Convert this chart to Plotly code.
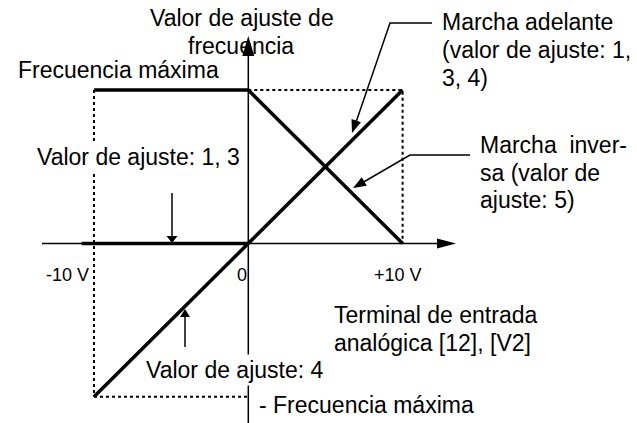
import math
import plotly.graph_objects as go

# ---------------- data ----------------
tick_values = [-10, 0, 10]
tick_labels = ["-10 V", "0", "+10 V"]

v_max = 10          # analog input full scale (V)
f_max = 1.0         # maximum frequency (normalised)

fwd_volts = [-10, 10]        # Marcha adelante (1, 3, 4) / ajuste 4
fwd_freq = [-1.0, 1.0]
rev_volts = [-10, 0, 10]     # Marcha inversa (ajuste 5)
rev_freq = [1.0, 1.0, 0.0]
hold_volts = [-10.8, 0]      # Valor de ajuste 1, 3 (negative input -> 0)
hold_freq = [0.0, 0.0]

# ---------------- layout helpers ----------------
W, H = 637, 423
X0_PX, SX = 248.3, 15.43     # pixel of 0 V, pixels per volt
Y0_PX, SY = 243.4, 153.3     # pixel of 0 Hz, pixels per f_max

def dx(px):
    return (px - X0_PX) / SX

def dy(py):
    return (Y0_PX - py) / SY

FONT = "Liberation Sans, Arial, sans-serif"
BLACK = "black"

fig = go.Figure()

# dotted guides
fig.add_trace(go.Scatter(
    x=[-v_max, -v_max, None, 0, v_max, v_max, None, -v_max, 0],
    y=[f_max, -f_max, None, f_max, f_max, 0, None, -f_max, -f_max],
    mode="lines", line=dict(color=BLACK, width=2, dash="dot"),
    hoverinfo="skip"))

# axes
x_axis_ext = [dx(42), dx(452)]
y_axis_ext = [dy(430), dy(40)]
fig.add_trace(go.Scatter(x=x_axis_ext, y=[0, 0], mode="lines",
                         line=dict(color=BLACK, width=1.5), hoverinfo="skip"))
fig.add_trace(go.Scatter(x=[0, 0], y=y_axis_ext, mode="lines",
                         line=dict(color=BLACK, width=1.5), hoverinfo="skip"))

# characteristic lines
for xs, ys in [(hold_volts, hold_freq), (fwd_volts, fwd_freq), (rev_volts, rev_freq)]:
    fig.add_trace(go.Scatter(x=xs, y=ys, mode="lines",
                             line=dict(color=BLACK, width=3.5), hoverinfo="skip"))

# callout / pointer lines (pixel positions -> data)
pointers = [
    [(432, 23), (390, 23), (353, 131)],
    [(470, 155), (410, 155), (355, 187)],
    [(172, 193), (172, 238)],
    [(185, 347), (185, 314)],
]
for pts in pointers:
    fig.add_trace(go.Scatter(x=[dx(p[0]) for p in pts], y=[dy(p[1]) for p in pts],
                             mode="lines", line=dict(color=BLACK, width=1.5),
                             hoverinfo="skip"))

shapes = []

def head(tip, frm, length, hw):
    tx, ty = tip
    fx, fy = frm
    vx, vy = tx - fx, -(ty - fy)
    n = math.hypot(vx, vy)
    ux, uy = vx / n, vy / n
    bx, by = -ux * length, -uy * length
    px_, py_ = -uy * hw, ux * hw
    path = (f"M0,0 L{bx + px_:.2f},{by + py_:.2f} "
            f"L{bx - px_:.2f},{by - py_:.2f} Z")
    shapes.append(dict(type="path", xref="x", yref="y",
                       xsizemode="pixel", ysizemode="pixel",
                       xanchor=dx(tx), yanchor=dy(ty), path=path,
                       fillcolor=BLACK, line=dict(width=0), layer="above"))

head((456, 243.4), (42, 243.4), 19, 5)      # x axis
head((248.3, 36), (248.3, 420), 20, 6)      # y axis
head((352, 133), (390, 23), 13, 5)          # forward callout
head((353, 188), (410, 155), 13, 5)         # reverse callout
head((172, 243), (172, 193), 7, 5.5)        # ajuste 1,3
head((185, 309), (185, 347), 8, 5)          # ajuste 4

annotations = []

def text(t, px, py, anchor="left", size=23, bg=None):
    a = dict(text=t, x=dx(px), y=dy(py), xref="x", yref="y",
             xanchor=anchor, yanchor="middle", showarrow=False,
             font=dict(family=FONT, size=size, color=BLACK))
    if bg:
        a.update(bgcolor=bg, borderpad=2)
    annotations.append(a)

text("Valor de ajuste de", 241.5, 18, "center")
text("frecuencia", 241, 46, "center")
text("Frecuencia máxima", 16, 70)
text("Marcha adelante", 440, 22)
text("(valor de ajuste: 1,", 440, 50)
text("3, 4)", 440, 78)
text("Marcha\u00a0 inver-", 478, 145)
text("sa (valor de", 478, 173)
text("ajuste: 5)", 478, 200)
text("Valor de ajuste: 1, 3", 34, 157, bg="white")
text("Terminal de entrada", 332, 315)
text("analógica [12], [V2]", 332, 343)
text("Valor de ajuste: 4", 143, 370, bg="white")
text("- Frecuencia máxima", 257, 405)

# tick labels
tick_px = {-10: (91, "right"), 0: (241.5, "center"), 10: (372, "left")}
for v, lab in zip(tick_values, tick_labels):
    pxx, anc = tick_px[v]
    annotations.append(dict(text=lab, x=dx(pxx), y=dy(275), xref="x", yref="y",
                            xanchor=anc, yanchor="middle", showarrow=False,
                            font=dict(family=FONT, size=18, color=BLACK)))

fig.update_layout(
    width=W, height=H, autosize=False,
    margin=dict(l=0, r=0, t=0, b=0, pad=0),
    paper_bgcolor="white", plot_bgcolor="white",
    showlegend=False,
    xaxis=dict(visible=False, range=[dx(0), dx(W)], fixedrange=True),
    yaxis=dict(visible=False, range=[dy(H), dy(0)], fixedrange=True),
    shapes=shapes, annotations=annotations,
)

fig.write_html(
    "out.html",
    config={"displayModeBar": False, "staticPlot": True},
    post_script="document.body.style.margin='0';document.body.style.overflow='hidden';",
)
